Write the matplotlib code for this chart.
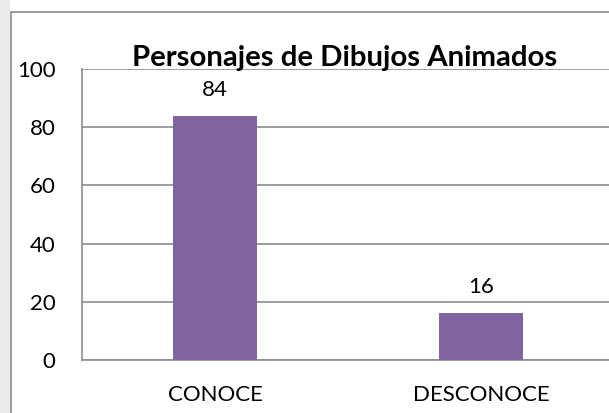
import numpy as np
import matplotlib.pyplot as plt
from matplotlib.patches import Rectangle

# datos
categorias = ['CONOCE', 'DESCONOCE']
valores = [84, 16]
yticks = [0, 20, 40, 60, 80, 100]
titulo = 'Personajes de Dibujos Animados'

plt.rcParams['font.family'] = ['Lato', 'DejaVu Sans']

W, H = 609, 413
fig = plt.figure(figsize=(W / 100, H / 100), dpi=100)

# franja de fondo a la izquierda (marca de agua)
fig.patches.append(Rectangle((0, 0), 10 / W, 1, transform=fig.transFigure,
                             facecolor='#cfd6cc', edgecolor='none', alpha=0.45))
# borde del grafico (recortado a la derecha y abajo)
fig.patches.append(Rectangle((11 / W, -0.1), 2, 1.1 - 12 / H, transform=fig.transFigure,
                             fill=False, edgecolor='#8c8c8c', linewidth=1.2))

# area del grafico: x 82..614, y 69..360
ax = fig.add_axes([82 / W, 1 - 360 / H, 532 / W, 291 / H])
x = np.arange(len(categorias))
barras = ax.bar(x, valores, width=0.316, color='#8064A2', zorder=3)
ax.set_xlim(-0.5, 1.5)
ax.set_ylim(0, 100)
ax.set_yticks(yticks)
ax.set_xticks(x)
ax.set_xticklabels(categorias)
ax.yaxis.grid(True, color='#8c8c8c', linewidth=1.2, zorder=0)
ax.tick_params(axis='both', length=0, labelsize=16, colors='black')
ax.tick_params(axis='y', pad=19)
ax.tick_params(axis='x', pad=18)
for s in ['top', 'right']:
    ax.spines[s].set_visible(False)
for s in ['left', 'bottom']:
    ax.spines[s].set_color('#8c8c8c')
    ax.spines[s].set_linewidth(1.2)

for b, v in zip(barras, valores):
    ax.annotate(str(v), (b.get_x() + b.get_width() / 2, v), xytext=(0, 16),
                textcoords='offset pixels', ha='center', va='bottom', fontsize=16)

fig.text(345 / W, 1 - 66 / H, titulo, ha='center', va='baseline',
         fontsize=21.2, fontweight='bold')

fig.savefig('out.png', dpi=100)
